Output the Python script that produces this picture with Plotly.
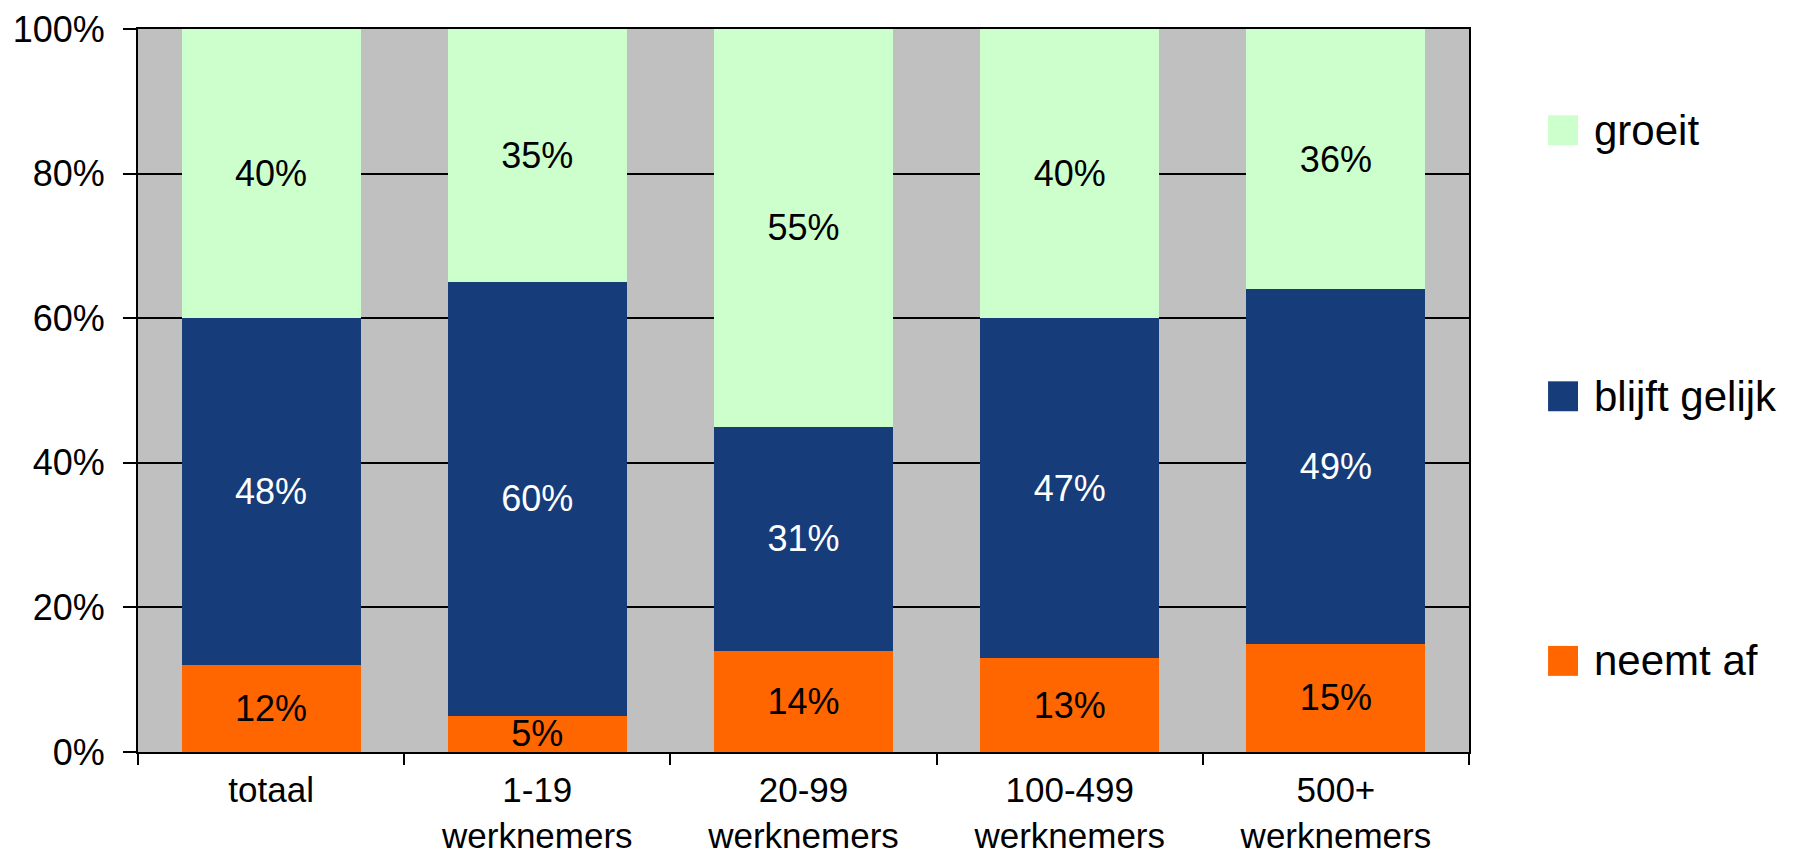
import plotly.graph_objects as go

categories = ["totaal", "1-19<br>werknemers", "20-99<br>werknemers", "100-499<br>werknemers", "500+<br>werknemers"]
series_names = ["neemt af", "blijft gelijk", "groeit"]
neemt_af = [12, 5, 14, 13, 15]
blijft_gelijk = [48, 60, 31, 47, 49]
groeit = [40, 35, 55, 40, 36]
y_ticks = [0, 20, 40, 60, 80, 100]
y_tick_labels = ["0%", "20%", "40%", "60%", "80%", "100%"]

colors = ["#FF6600", "#163C79", "#CCFFCC"]
text_colors = ["black", "white", "black"]
FONT = "Liberation Sans, Arial, sans-serif"

fig = go.Figure()
for name, vals, col, tcol in zip(series_names, [neemt_af, blijft_gelijk, groeit], colors, text_colors):
    fig.add_trace(go.Bar(
        x=categories, y=vals, name=name,
        marker=dict(color=col, line=dict(width=0)),
        text=[f"{v}%" for v in vals],
        textposition="inside", insidetextanchor="middle", textangle=0,
        textfont=dict(family=FONT, size=36, color=tcol),
        showlegend=False,
    ))

# manual legend (top to bottom: groeit, blijft gelijk, neemt af)
legend_y = [0.126, 0.492, 0.860]
for name, col, ly in zip(series_names, colors, legend_y):
    fig.add_shape(type="rect", xref="paper", yref="paper",
                  x0=1.0594, x1=1.0819, y0=ly - 0.0207, y1=ly + 0.0207,
                  fillcolor=col, line=dict(width=0))
    fig.add_annotation(xref="paper", yref="paper", x=1.0924, y=ly,
                       text=name, showarrow=False, xanchor="left", yanchor="middle",
                       font=dict(family=FONT, size=42, color="black"))

fig.update_layout(
    barmode="stack",
    bargap=0.327,
    width=1784, height=848,
    margin=dict(l=130, r=323, t=21, b=104, pad=0, autoexpand=False),
    paper_bgcolor="white",
    plot_bgcolor="#C0C0C0",
    font=dict(family=FONT, size=36, color="black"),
    uniformtext=dict(minsize=36, mode="show"),
)
fig.update_xaxes(
    automargin=False,
    showline=True, linecolor="black", linewidth=2, mirror=True,
    ticks="outside", tickson="boundaries", ticklen=11, tickwidth=2, tickcolor="black",
    showgrid=False, tickfont=dict(family=FONT, size=35, color="black"),
    ticklabelstandoff=6, ticklabeloverflow="allow",
)
fig.update_yaxes(
    automargin=False,
    range=[0, 100], tickvals=y_ticks, ticktext=y_tick_labels,
    showline=True, linecolor="black", linewidth=2, mirror=True,
    ticks="outside", ticklen=13, tickwidth=2, tickcolor="black",
    showgrid=True, gridcolor="black", gridwidth=2,
    zeroline=False,
    tickfont=dict(family=FONT, size=36, color="black"),
    ticklabelstandoff=11, ticklabeloverflow="allow",
)

fig.write_html("out.html")
